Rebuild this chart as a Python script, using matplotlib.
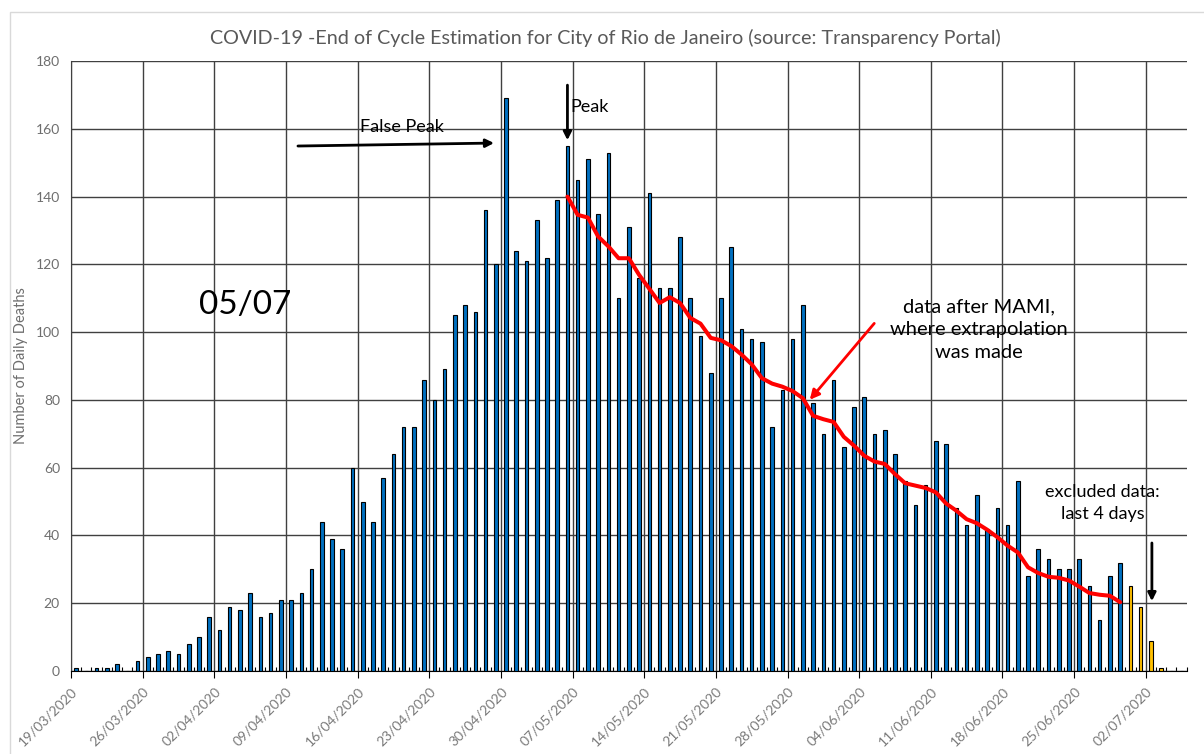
import numpy as np
import pandas as pd
from matplotlib import pyplot as plt
from matplotlib.patches import Rectangle
from matplotlib.ticker import MultipleLocator

plt.rcParams['font.family'] = ['Lato', 'DejaVu Sans']

# daily deaths 19/03/2020 .. 05/07/2020
dates = pd.date_range('2020-03-19', '2020-07-05')
deaths = [1, 0, 1, 1, 2, 0, 3, 4, 5, 6, 5, 8, 10, 16, 12, 19, 18, 23, 16, 17,
          21, 21, 23, 30, 44, 39, 36, 60, 50, 44, 57, 64, 72, 72, 86, 80, 89, 105, 108, 106,
          136, 120, 169, 124, 121, 133, 122, 139, 155, 145, 151, 135, 153, 110, 131, 116, 141, 113, 113, 128,
          110, 99, 88, 110, 125, 101, 98, 97, 72, 83, 98, 108, 79, 70, 86, 66, 78, 81, 70, 71,
          64, 56, 49, 55, 68, 67, 48, 43, 52, 42, 48, 43, 56, 28, 36, 33, 30, 30, 33, 25,
          15, 28, 32, 25, 19, 9, 1, 0, 0]
n_excluded = 4  # last 4 days with data (30/06 - 03/07)
last_data = 106

# MAMI curve, from 06/05 to 29/06
mami_start = 48
mami = [140.0, 134.6, 133.8, 128.2, 125.3, 121.8, 121.8, 116.9, 112.8, 108.6,
        110.3, 108.6, 104.2, 102.5, 98.3, 97.6, 95.9, 93.4, 90.5, 86.4,
        84.8, 83.9, 82.6, 80.5, 75.3, 74.3, 73.5, 69.1, 66.5, 63.5,
        61.8, 61.1, 58.1, 55.4, 54.7, 54.0, 52.7, 49.4, 47.3, 44.8,
        43.6, 41.7, 39.5, 37.0, 35.0, 30.6, 28.9, 27.8, 27.5, 26.7,
        24.9, 23.0, 22.5, 22.2, 20.3]

x = np.arange(len(dates)) + 0.5
colors = ['#0070C0'] * len(dates)
for i in range(last_data - n_excluded + 1, last_data + 1):
    colors[i] = '#FFC000'

fig = plt.figure(figsize=(12.04, 7.54), dpi=100)
ax = fig.add_axes([71 / 1204, 1 - 671 / 754, (1186.7 - 71) / 1204, (671 - 61) / 754])

ax.bar(x, deaths, width=0.35, color=colors, edgecolor='black', linewidth=0.8, zorder=3)
mx = x[mami_start:mami_start + len(mami)]
ax.plot(mx, mami, color='#FF0000', lw=2.9, zorder=4, solid_joinstyle='round', solid_capstyle='round')

ax.set_xlim(0, len(dates))
ax.set_ylim(0, 180)
ax.yaxis.set_major_locator(MultipleLocator(20))
ax.set_xticks(np.arange(0, len(dates), 7))
ax.set_xticklabels([d.strftime('%d/%m/%Y') for d in dates[::7]], rotation=45,
                   ha='right', rotation_mode='anchor', color='#7a7a7a', fontsize=10)
ax.set_xticks(np.arange(0, len(dates) + 1), minor=True)
ax.tick_params(axis='x', which='major', direction='out', length=5, color='black', pad=5)
ax.tick_params(axis='x', which='minor', direction='in', length=3, color='black', width=0.8)
ax.tick_params(axis='y', length=0, pad=8, labelcolor='#6e6e6e', labelsize=10)

ax.grid(True, which='major', color='#404040', lw=1, zorder=0)
for s in ['top', 'right']:
    ax.spines[s].set_visible(False)
ax.spines['left'].set_color('#404040')
ax.spines['bottom'].set_color('black')

ax.set_ylabel('Number of Daily Deaths', color='#6e6e6e', fontsize=10.5)
ax.yaxis.set_label_coords(-0.0385, 0.5)

fig.text(0.5025, 1 - 38 / 754, 'COVID-19 -End of Cycle Estimation for City of Rio de Janeiro (source: Transparency Portal)',
         ha='center', va='center', fontsize=14.25, color='#595959')

# annotations
ax.text(17.0, 108, '05/07', fontsize=24, ha='center', va='center', color='black')
ax.annotate('', xy=(41.6, 155.8), xytext=(21.9, 154.9),
            arrowprops=dict(arrowstyle='-|>', color='black', lw=2, mutation_scale=12))
ax.text(32.3, 160.5, 'False Peak', fontsize=13, ha='center', va='center')
ax.annotate('', xy=(48.5, 155.8), xytext=(48.5, 173.7),
            arrowprops=dict(arrowstyle='-|>', color='black', lw=2, mutation_scale=12))
ax.text(48.8, 166.4, 'Peak', fontsize=13, ha='left', va='center')
ax.text(88.7, 100.8, 'data after MAMI,\nwhere extrapolation\nwas made', fontsize=14.5,
        ha='center', va='center', linespacing=1.4)
ax.annotate('', xy=(72.0, 79.4), xytext=(78.65, 103.2),
            arrowprops=dict(arrowstyle='-|>', color='#FF0000', lw=2, mutation_scale=14))
ax.text(100.8, 49.6, 'excluded data:\nlast 4 days', fontsize=13, ha='center', va='center',
        linespacing=1.5)
ax.annotate('', xy=(105.6, 19.8), xytext=(105.6, 38.6),
            arrowprops=dict(arrowstyle='-|>', color='black', lw=2, mutation_scale=12))

fig.add_artist(Rectangle((10 / 1204, -0.01), 1.1, 1 - 12 / 754 + 0.01, transform=fig.transFigure,
                         fill=False, edgecolor='#d9d9d9', lw=1))

plt.savefig('out.png', dpi=100)
